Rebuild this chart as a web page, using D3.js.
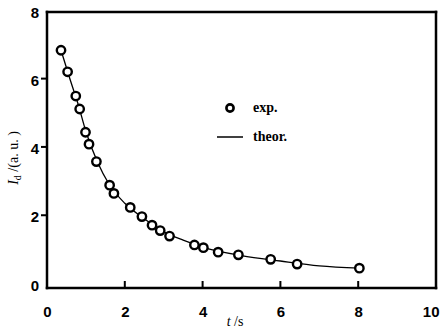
<!DOCTYPE html>
<html>
<head>
<meta charset="utf-8">
<script src="https://cdn.jsdelivr.net/npm/d3@7"></script>
<style>
  html, body { margin: 0; padding: 0; background: #fff; }
  .tick text { font-family: "Liberation Sans", Arial, sans-serif; font-weight: bold; font-size: 15px; fill: #000; }
  .lbl { font-family: "Liberation Serif", "Times New Roman", serif; font-size: 14px; fill: #000; }
</style>
</head>
<body>
<div id="chart"></div>
<script>
// measured points (t in s, intensity in a.u.)
const expT = [0.36, 0.53, 0.74, 0.84, 0.99, 1.08, 1.27, 1.61, 1.72, 2.14, 2.44, 2.70, 2.91, 3.15, 3.79, 4.02, 4.40, 4.92, 5.75, 6.43, 8.03];
const expI = [6.83, 6.20, 5.49, 5.11, 4.43, 4.08, 3.57, 2.88, 2.64, 2.23, 1.96, 1.71, 1.55, 1.39, 1.13, 1.05, 0.92, 0.84, 0.71, 0.57, 0.45];

// theoretical curve
const theorT = [0.36, 0.6, 0.8, 1.0, 1.3, 1.6, 2.0, 2.5, 3.0, 3.5, 4.0, 5.0, 6.0, 7.0, 8.03];
const theorI = [6.83, 5.95, 5.25, 4.45, 3.55, 2.90, 2.35, 1.90, 1.52, 1.27, 1.07, 0.82, 0.66, 0.52, 0.45];

const xTicks = [0, 2, 4, 6, 8, 10];
const yTicks = [0, 2, 4, 6, 8];

const W = 440, H = 332;
const m = {top: 12, right: 4, bottom: 44, left: 47};
const iw = W - m.left - m.right;
const ih = H - m.top - m.bottom;

const svg = d3.select("#chart").append("svg").attr("width", W).attr("height", H);
const g = svg.append("g").attr("transform", `translate(${m.left}, ${m.top})`);

const xs = d3.scaleLinear().domain([0, 10]).range([0, iw]);
const ys = d3.scaleLinear().domain([-0.13, 7.95]).range([ih, 0]);

// frame as four filled bars
const bw = 2.5;
const bars = [
    [-bw / 2, -bw / 2, iw + bw, bw],
    [-bw / 2, ih - bw / 2, iw + bw, bw],
    [-bw / 2, -bw / 2, bw, ih + bw],
    [iw - bw / 2, -bw / 2, bw, ih + bw]
];
g.selectAll("rect.frame")
    .data(bars)
    .join("rect")
    .attr("class", "frame")
    .attr("x", d => d[0]).attr("y", d => d[1])
    .attr("width", d => d[2]).attr("height", d => d[3])
    .attr("fill", "#000");

// tick marks as small filled bars
g.selectAll("rect.xtick")
    .data(xTicks.filter(d => d > 0 && d < 10))
    .join("rect")
    .attr("class", "xtick")
    .attr("x", d => xs(d) - 1).attr("y", ih - 7)
    .attr("width", 2).attr("height", 7)
    .attr("fill", "#000");

g.selectAll("rect.ytick")
    .data(yTicks.filter(d => d > 0 && d < 8))
    .join("rect")
    .attr("class", "ytick")
    .attr("x", -6).attr("y", d => ys(d) - 1)
    .attr("width", 6).attr("height", 2)
    .attr("fill", "#000");

const xa = g.append("g")
    .attr("transform", `translate(0, ${ih})`)
    .call(d3.axisBottom(xs).tickValues(xTicks).tickSize(0).tickPadding(18));
xa.select(".domain").remove();
xa.selectAll(".tick line").remove();
xa.selectAll(".tick").filter(d => d === 10).select("text").attr("text-anchor", "end").attr("dx", 3);

const ya = g.append("g")
    .call(d3.axisLeft(ys).tickValues(yTicks).tickSize(0).tickPadding(8));
ya.select(".domain").remove();
ya.selectAll(".tick line").remove();
ya.selectAll(".tick text").attr("dy", "0.45em");

// theory curve
const theorLine = d3.line()
    .x(d => xs(d[0]))
    .y(d => ys(d[1]))
    .curve(d3.curveMonotoneX);

g.append("path")
    .datum(d3.zip(theorT, theorI))
    .attr("fill", "none")
    .attr("stroke", "#000")
    .attr("stroke-width", 1.3)
    .attr("d", theorLine);

// experimental points
g.selectAll("circle.exp")
    .data(d3.zip(expT, expI))
    .join("circle")
    .attr("class", "exp")
    .attr("cx", d => xs(d[0]))
    .attr("cy", d => ys(d[1]))
    .attr("r", 4.2)
    .attr("fill", "#fff")
    .attr("stroke", "#000")
    .attr("stroke-width", 2.4);

// legend
const lg = svg.append("g");
lg.append("circle")
    .attr("cx", 230).attr("cy", 108).attr("r", 3.6)
    .attr("fill", "#fff").attr("stroke", "#000").attr("stroke-width", 2.6);
lg.append("text").attr("class", "lbl")
    .attr("x", 253).attr("y", 112)
    .style("font-weight", "bold")
    .text("exp.");
lg.append("line")
    .attr("x1", 217).attr("x2", 243).attr("y1", 137).attr("y2", 137)
    .attr("stroke", "#000").attr("stroke-width", 1.5);
lg.append("text").attr("class", "lbl")
    .attr("x", 253).attr("y", 141)
    .style("font-weight", "bold")
    .text("theor.");

// axis titles
const xTitle = svg.append("text").attr("class", "lbl")
    .attr("x", 235).attr("y", 326)
    .attr("text-anchor", "middle");
xTitle.append("tspan").style("font-style", "italic").text("t");
xTitle.append("tspan").text(" /s");

const yTitle = svg.append("text").attr("class", "lbl")
    .attr("transform", "translate(18, 158) rotate(-90)")
    .attr("text-anchor", "middle");
yTitle.append("tspan").style("font-style", "italic").text("I");
yTitle.append("tspan").attr("dy", 3).style("font-size", "10px").text("d");
yTitle.append("tspan").attr("dy", -3).text(" /(a. u. )");
</script>
</body>
</html>
